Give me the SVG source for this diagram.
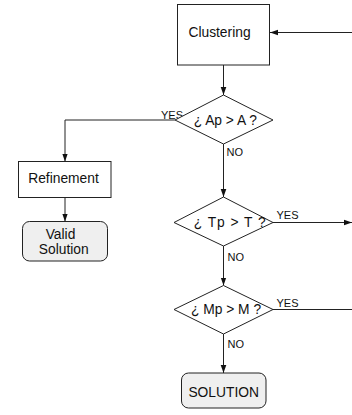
<svg xmlns="http://www.w3.org/2000/svg" width="352" height="415" viewBox="0 0 352 415">
<style>
.box{fill:#fff;stroke:#222;stroke-width:1}
.term{fill:#efefef;stroke:#222;stroke-width:1}
.t{font-family:"Liberation Sans",Arial,sans-serif;font-size:13.8px;fill:#111;text-anchor:middle}
.s{font-family:"Liberation Sans",Arial,sans-serif;font-size:11px;fill:#111}
.c{fill:none;stroke:#222;stroke-width:1}
</style>
<defs>
<marker id="ah" viewBox="0 0 10 10" refX="10" refY="5" markerWidth="8" markerHeight="8" markerUnits="userSpaceOnUse" orient="auto">
<path d="M0,1.5 L10,5 L0,8.5 Z" fill="#111"/>
</marker>
</defs>
<rect width="352" height="415" fill="#fff"/>
<g id="connectors">
<path class="c" d="M352,32.5 H270" marker-end="url(#ah)"/>
<path class="c" d="M223.5,65 V95" marker-end="url(#ah)"/>
<path class="c" d="M175,120 H65 V161.5" marker-end="url(#ah)"/>
<path class="c" d="M65,197.5 V221.5" marker-end="url(#ah)"/>
<path class="c" d="M223.5,144 V197" marker-end="url(#ah)"/>
<path class="c" d="M273,222.5 H352" marker-end="url(#ah)"/>
<path class="c" d="M223.5,246 V285.5" marker-end="url(#ah)"/>
<path class="c" d="M273,309.5 H352"/>
<path class="c" d="M223.5,334 V373" marker-end="url(#ah)"/>
<text class="s" x="161" y="118.5">YES</text>
<text class="s" x="226.5" y="155.5">NO</text>
<text class="s" x="276.5" y="219">YES</text>
<text class="s" x="227.5" y="261">NO</text>
<text class="s" x="276.5" y="307">YES</text>
<text class="s" x="227.5" y="348">NO</text>
</g>
<g id="clustering">
<rect class="box" x="177.5" y="4.5" width="92" height="60.5"/>
<text class="t" x="219.5" y="36.5">Clustering</text>
</g>
<g id="decision-ap">
<polygon class="box" points="223.5,95 273,120 223.5,144 175,120"/>
<text class="t" x="225.3" y="124.5">¿ Ap &gt; A ?</text>
</g>
<g id="refinement">
<rect class="box" x="18.5" y="161.5" width="92.5" height="36"/>
<text class="t" x="63.5" y="183">Refinement</text>
</g>
<g id="valid-solution">
<rect class="term" x="22.5" y="221.5" width="85" height="39.5" rx="7"/>
<text class="t" x="60.5" y="239">Valid</text>
<text class="t" x="63.7" y="254">Solution</text>
</g>
<g id="decision-tp">
<polygon class="box" points="223.5,197 273,222.5 223.5,246 174,222.5"/>
<text class="t" x="229.7" y="226.5" textLength="72" lengthAdjust="spacing">¿ Tp &gt; T ?</text>
</g>
<g id="decision-mp">
<polygon class="box" points="223.5,285.5 273,309.5 223.5,334 174,309.5"/>
<text class="t" x="226" y="314">¿ Mp &gt; M ?</text>
</g>
<g id="solution">
<rect class="term" x="181.5" y="373" width="84.5" height="35" rx="7"/>
<text class="t" x="223.7" y="397">SOLUTION</text>
</g>
</svg>
